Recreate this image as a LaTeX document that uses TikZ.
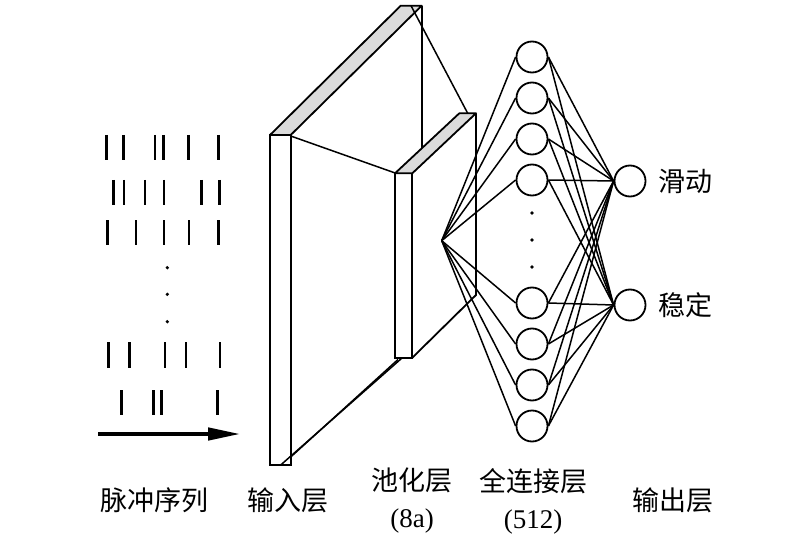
\documentclass[tikz,border=0pt]{standalone}
\usepackage{fontspec}
\setmainfont{Liberation Serif}
\newfontfamily\cjk{Noto Sans CJK SC}
\usetikzlibrary{arrows.meta}
\tikzset{
    > = stealth,
    neuron/.style = {circle, draw, line width = 1.8pt, minimum size = 31pt, inner sep = 0pt},
    wire/.style = {line width = 1.5pt},
    rim/.style = {line width = 1.8pt},
    spike/.style = {line width = 2.8pt},
    slab/.style = {draw, line width = 1.8pt, fill = white},
    slabtop/.style = {draw, line width = 1.8pt, fill = gray!28, line join = round},
    lbl/.style = {font = \fontsize{27}{37}\selectfont, align = center, inner sep = 0pt}
}

\begin{document}
\begin{tikzpicture}[x = 1pt, y = -1pt]
    \useasboundingbox (0, 0) rectangle (800, 540);

    % spike trains
    \foreach \x in {106.7, 123.3, 155, 163.3, 188.3, 218.3}
        \draw[spike] (\x, 135) -- (\x, 160);
    \foreach \x in {113.3, 124, 145, 164, 201.7, 219.3}
        \draw[spike] (\x, 180) -- (\x, 205);
    \foreach \x in {107.3, 136, 164, 189, 218.3}
        \draw[spike] (\x, 220) -- (\x, 245);
    \foreach \y in {267.7, 294.3, 321.7}
        \fill (167.3, \y) circle (1.8);
    \foreach \x in {108.3, 129.3, 165, 186, 220}
        \draw[spike] (\x, 342) -- (\x, 368);
    \foreach \x in {121.7, 153.3, 161.7, 217.3}
        \draw[spike] (\x, 390) -- (\x, 415);
    \coordinate (t0) at (98, 434);
    \coordinate (t1) at (241, 434);
    \draw[line width = 4.5pt, -{Triangle[length = 33pt, width = 12pt]}] (t0) -- (t1);

    % input layer
    \draw[slab] (270, 135) rectangle (290.7, 465);
    \draw[slabtop] (270, 135) -- (400.7, 5.7) -- (421.7, 5.7) -- (290.7, 135) -- cycle;
    \draw[rim] (421.7, 5.7) -- (421.7, 148);

    % pooling layer
    \draw[slab] (395, 173.3) rectangle (412.3, 357.7);
    \draw[slabtop] (395, 173.3) -- (459.3, 113.3) -- (476, 113.3) -- (412.3, 173.3) -- cycle;
    \draw[rim] (476, 113.3) -- (476, 295) -- (412.3, 357.7);

    \coordinate (inTop) at (411, 5.7);
    \coordinate (poolTop) at (467.7, 113.3);
    \coordinate (inFront) at (290.7, 136);
    \coordinate (poolFront) at (396, 173.3);
    \coordinate (inBotA) at (280.7, 465);
    \coordinate (poolBotA) at (402, 358);
    \coordinate (inBotB) at (290.7, 457);
    \coordinate (poolBotB) at (398, 359.5);
    \draw[wire] (inTop) -- (poolTop);
    \draw[wire] (inFront) -- (poolFront);
    \draw[wire] (inBotA) -- (poolBotA);
    \draw[wire] (inBotB) -- (poolBotB);

    % fully connected layer
    \foreach \i/\y in {1/57, 2/98, 3/139, 4/180, 5/303, 6/344, 7/385, 8/426}
        \node[neuron] (f\i) at (532, \y) {};
    \foreach \y in {213, 240, 267}
        \fill (532, \y) circle (1.8);
    \coordinate (apex) at (441.7, 240.7);
    \foreach \i in {1, ..., 8}
        \draw[wire] (apex) -- (f\i.west);

    % output layer
    \node[neuron] (o1) at (630, 181) {};
    \node[neuron] (o2) at (630, 305) {};
    \foreach \i in {1, ..., 8} {
        \draw[wire] (f\i.east) -- (o1.west);
        \draw[wire] (f\i.east) -- (o2.west);
    }
    \node[lbl] (slide) at (685, 181) {\cjk 滑动};
    \node[lbl] (stable) at (685, 305) {\cjk 稳定};

    % captions
    \node[lbl] (cSpike) at (154, 500) {\cjk 脉冲序列};
    \node[lbl] (cIn) at (287.5, 500) {\cjk 输入层};
    \node[lbl] (cPool) at (412, 501) {{\cjk 池化层}\\(8a)};
    \node[lbl] (cFc) at (533, 501) {{\cjk 全连接层}\\(512)};
    \node[lbl] (cOut) at (673, 500) {\cjk 输出层};
\end{tikzpicture}
\end{document}
